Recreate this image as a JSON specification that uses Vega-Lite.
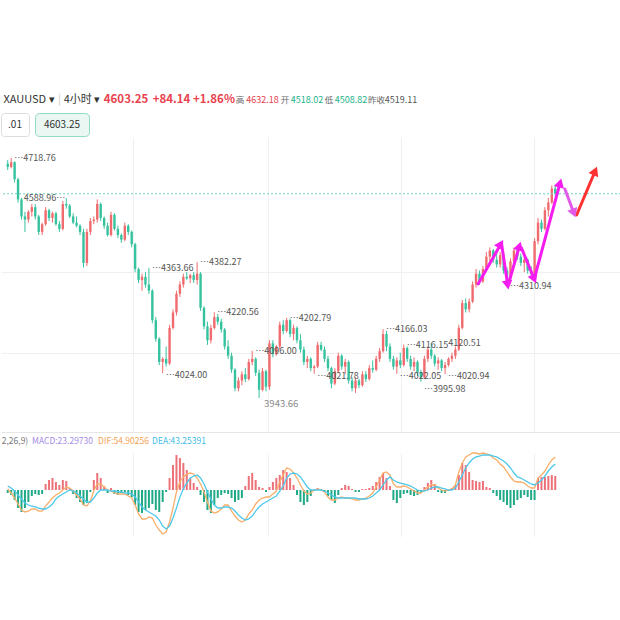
{
"$schema":"https://vega.github.io/schema/vega-lite/v6.json",
"background":"white",
"padding":{"top":88,"left":0,"right":0,"bottom":0},
"autosize":{"type":"pad"},
"spacing":0,
"config":{"font":"Noto Sans CJK SC","view":{"stroke":null},"axis":{"labels":false,"ticks":false,"domain":false,"gridColor":"#f0f0f0","title":null}},
"datasets":{
"k":[
{"i":0,"o":4700,"h":4712,"l":4680,"c":4690},{"i":1,"o":4690,"h":4718.76,"l":4685,"c":4705},{"i":2,"o":4705,"h":4708,"l":4640,"c":4650},{"i":3,"o":4650,"h":4655,"l":4575,"c":4585},{"i":4,"o":4585,"h":4590,"l":4520,"c":4530},{"i":5,"o":4530,"h":4545,"l":4480,"c":4520},{"i":6,"o":4520,"h":4550,"l":4510,"c":4545},{"i":7,"o":4545,"h":4570,"l":4530,"c":4560},{"i":8,"o":4560,"h":4570,"l":4520,"c":4530},{"i":9,"o":4530,"h":4535,"l":4470,"c":4480},
{"i":10,"o":4480,"h":4510,"l":4470,"c":4505},{"i":11,"o":4505,"h":4560,"l":4500,"c":4550},{"i":12,"o":4550,"h":4555,"l":4515,"c":4525},{"i":13,"o":4525,"h":4545,"l":4510,"c":4540},{"i":14,"o":4540,"h":4545,"l":4500,"c":4505},{"i":15,"o":4505,"h":4515,"l":4480,"c":4490},{"i":16,"o":4490,"h":4580,"l":4485,"c":4570},{"i":17,"o":4570,"h":4588.96,"l":4555,"c":4565},{"i":18,"o":4565,"h":4570,"l":4525,"c":4530},{"i":19,"o":4530,"h":4540,"l":4505,"c":4510},
{"i":20,"o":4510,"h":4530,"l":4495,"c":4500},{"i":21,"o":4500,"h":4505,"l":4470,"c":4480},{"i":22,"o":4480,"h":4490,"l":4365,"c":4380},{"i":23,"o":4380,"h":4490,"l":4370,"c":4480},{"i":24,"o":4480,"h":4525,"l":4470,"c":4515},{"i":25,"o":4515,"h":4530,"l":4505,"c":4520},{"i":26,"o":4520,"h":4585,"l":4510,"c":4570},{"i":27,"o":4570,"h":4575,"l":4515,"c":4525},{"i":28,"o":4525,"h":4530,"l":4490,"c":4500},{"i":29,"o":4500,"h":4510,"l":4465,"c":4470},
{"i":30,"o":4470,"h":4545,"l":4465,"c":4535},{"i":31,"o":4535,"h":4540,"l":4485,"c":4490},{"i":32,"o":4490,"h":4500,"l":4460,"c":4470},{"i":33,"o":4470,"h":4475,"l":4445,"c":4455},{"i":34,"o":4455,"h":4510,"l":4450,"c":4500},{"i":35,"o":4500,"h":4505,"l":4470,"c":4480},{"i":36,"o":4480,"h":4485,"l":4430,"c":4440},{"i":37,"o":4440,"h":4445,"l":4350,"c":4360},{"i":38,"o":4360,"h":4365,"l":4315,"c":4325},{"i":39,"o":4325,"h":4345,"l":4290,"c":4335},
{"i":40,"o":4335,"h":4350,"l":4300,"c":4310},{"i":41,"o":4310,"h":4363.66,"l":4280,"c":4290},{"i":42,"o":4290,"h":4295,"l":4185,"c":4195},{"i":43,"o":4195,"h":4205,"l":4125,"c":4135},{"i":44,"o":4135,"h":4140,"l":4050,"c":4060},{"i":45,"o":4060,"h":4075,"l":4024,"c":4070},{"i":46,"o":4070,"h":4110,"l":4045,"c":4055},{"i":47,"o":4055,"h":4180,"l":4050,"c":4170},{"i":48,"o":4170,"h":4230,"l":4165,"c":4220},{"i":49,"o":4220,"h":4290,"l":4210,"c":4280},
{"i":50,"o":4280,"h":4320,"l":4270,"c":4310},{"i":51,"o":4310,"h":4345,"l":4300,"c":4335},{"i":52,"o":4335,"h":4350,"l":4325,"c":4330},{"i":53,"o":4330,"h":4345,"l":4315,"c":4340},{"i":54,"o":4340,"h":4350,"l":4315,"c":4325},{"i":55,"o":4325,"h":4382.27,"l":4310,"c":4345},{"i":56,"o":4345,"h":4350,"l":4225,"c":4235},{"i":57,"o":4235,"h":4240,"l":4165,"c":4175},{"i":58,"o":4175,"h":4190,"l":4115,"c":4130},{"i":59,"o":4130,"h":4180,"l":4120,"c":4170},
{"i":60,"o":4170,"h":4220.56,"l":4165,"c":4205},{"i":61,"o":4205,"h":4215,"l":4180,"c":4190},{"i":62,"o":4190,"h":4200,"l":4155,"c":4165},{"i":63,"o":4165,"h":4170,"l":4100,"c":4110},{"i":64,"o":4110,"h":4130,"l":4070,"c":4080},{"i":65,"o":4080,"h":4090,"l":4025,"c":4035},{"i":66,"o":4035,"h":4040,"l":3965,"c":3975},{"i":67,"o":3975,"h":4010,"l":3965,"c":4000},{"i":68,"o":4000,"h":4030,"l":3985,"c":4020},{"i":69,"o":4020,"h":4040,"l":3995,"c":4005},
{"i":70,"o":4005,"h":4070,"l":4000,"c":4060},{"i":71,"o":4060,"h":4096,"l":4050,"c":4070},{"i":72,"o":4070,"h":4075,"l":4015,"c":4025},{"i":73,"o":4025,"h":4035,"l":3943.66,"c":3970},{"i":74,"o":3970,"h":4040,"l":3965,"c":4030},{"i":75,"o":4030,"h":4035,"l":3965,"c":3980},{"i":76,"o":3980,"h":4130,"l":3970,"c":4120},{"i":77,"o":4120,"h":4130,"l":4075,"c":4085},{"i":78,"o":4085,"h":4115,"l":4080,"c":4110},{"i":79,"o":4110,"h":4190,"l":4100,"c":4180},
{"i":80,"o":4180,"h":4195,"l":4150,"c":4160},{"i":81,"o":4160,"h":4202.79,"l":4155,"c":4195},{"i":82,"o":4195,"h":4200,"l":4140,"c":4150},{"i":83,"o":4150,"h":4180,"l":4130,"c":4170},{"i":84,"o":4170,"h":4175,"l":4120,"c":4130},{"i":85,"o":4130,"h":4150,"l":4090,"c":4100},{"i":86,"o":4100,"h":4110,"l":4050,"c":4060},{"i":87,"o":4060,"h":4080,"l":4040,"c":4070},{"i":88,"o":4070,"h":4075,"l":4030,"c":4040},{"i":89,"o":4040,"h":4050,"l":4021.78,"c":4045},
{"i":90,"o":4045,"h":4125,"l":4040,"c":4115},{"i":91,"o":4115,"h":4125,"l":4095,"c":4100},{"i":92,"o":4100,"h":4110,"l":4060,"c":4070},{"i":93,"o":4070,"h":4080,"l":4030,"c":4040},{"i":94,"o":4040,"h":4045,"l":3975,"c":3990},{"i":95,"o":3990,"h":4040,"l":3985,"c":4030},{"i":96,"o":4030,"h":4090,"l":4025,"c":4080},{"i":97,"o":4080,"h":4085,"l":4035,"c":4045},{"i":98,"o":4045,"h":4070,"l":4020,"c":4060},{"i":99,"o":4060,"h":4065,"l":3990,"c":4000},
{"i":100,"o":4000,"h":4010,"l":3965,"c":3975},{"i":101,"o":3975,"h":4010,"l":3960,"c":4000},{"i":102,"o":4000,"h":4005,"l":3975,"c":3985},{"i":103,"o":3985,"h":4030,"l":3980,"c":4020},{"i":104,"o":4020,"h":4030,"l":3995,"c":4005},{"i":105,"o":4005,"h":4050,"l":4000,"c":4040},{"i":106,"o":4040,"h":4065,"l":4025,"c":4035},{"i":107,"o":4035,"h":4080,"l":4030,"c":4070},{"i":108,"o":4070,"h":4105,"l":4060,"c":4095},{"i":109,"o":4095,"h":4166.03,"l":4090,"c":4150},
{"i":110,"o":4150,"h":4160,"l":4095,"c":4110},{"i":111,"o":4110,"h":4120,"l":4060,"c":4070},{"i":112,"o":4070,"h":4080,"l":4035,"c":4045},{"i":113,"o":4045,"h":4075,"l":4022.05,"c":4065},{"i":114,"o":4065,"h":4090,"l":4040,"c":4050},{"i":115,"o":4050,"h":4116.15,"l":4045,"c":4105},{"i":116,"o":4105,"h":4110,"l":4060,"c":4070},{"i":117,"o":4070,"h":4080,"l":4035,"c":4045},{"i":118,"o":4045,"h":4075,"l":4030,"c":4060},{"i":119,"o":4060,"h":4065,"l":4015,"c":4025},
{"i":120,"o":4025,"h":4035,"l":3995.98,"c":4010},{"i":121,"o":4010,"h":4080,"l":4005,"c":4070},{"i":122,"o":4070,"h":4110,"l":4060,"c":4100},{"i":123,"o":4100,"h":4120.51,"l":4070,"c":4080},{"i":124,"o":4080,"h":4085,"l":4045,"c":4055},{"i":125,"o":4055,"h":4075,"l":4035,"c":4065},{"i":126,"o":4065,"h":4070,"l":4030,"c":4040},{"i":127,"o":4040,"h":4060,"l":4020.94,"c":4050},{"i":128,"o":4050,"h":4075,"l":4045,"c":4070},{"i":129,"o":4070,"h":4090,"l":4060,"c":4080},
{"i":130,"o":4080,"h":4110,"l":4070,"c":4100},{"i":131,"o":4100,"h":4180,"l":4095,"c":4170},{"i":132,"o":4170,"h":4260,"l":4165,"c":4250},{"i":133,"o":4250,"h":4265,"l":4220,"c":4230},{"i":134,"o":4230,"h":4265,"l":4220,"c":4255},{"i":135,"o":4255,"h":4320,"l":4250,"c":4310},{"i":136,"o":4310,"h":4360,"l":4300,"c":4345},{"i":137,"o":4345,"h":4355,"l":4310,"c":4320},{"i":138,"o":4320,"h":4370,"l":4315,"c":4360},{"i":139,"o":4360,"h":4415,"l":4355,"c":4400},
{"i":140,"o":4400,"h":4430,"l":4385,"c":4420},{"i":141,"o":4420,"h":4425,"l":4380,"c":4390},{"i":142,"o":4390,"h":4410,"l":4365,"c":4375},{"i":143,"o":4375,"h":4415,"l":4365,"c":4405},{"i":144,"o":4405,"h":4410,"l":4345,"c":4355},{"i":145,"o":4355,"h":4365,"l":4310.94,"c":4330},{"i":146,"o":4330,"h":4395,"l":4325,"c":4385},{"i":147,"o":4385,"h":4430,"l":4380,"c":4420},{"i":148,"o":4420,"h":4432,"l":4390,"c":4400},{"i":149,"o":4400,"h":4410,"l":4370,"c":4380},
{"i":150,"o":4380,"h":4400,"l":4350,"c":4390},{"i":151,"o":4390,"h":4395,"l":4345,"c":4355},{"i":152,"o":4355,"h":4370,"l":4330,"c":4345},{"i":153,"o":4345,"h":4460,"l":4340,"c":4450},{"i":154,"o":4450,"h":4525,"l":4440,"c":4510},{"i":155,"o":4510,"h":4520,"l":4480,"c":4490},{"i":156,"o":4490,"h":4560,"l":4485,"c":4550},{"i":157,"o":4550,"h":4590,"l":4530,"c":4575},{"i":158,"o":4575,"h":4630,"l":4570,"c":4620},{"i":159,"o":4620,"h":4632.18,"l":4595,"c":4603.25}
],
"m":[
{"i":0,"m":-5,"f":1.7,"d":6.6},{"i":1,"m":-8.3,"f":-5,"d":3.3},{"i":2,"m":-16.6,"f":-13.3,"d":-1.7},{"i":3,"m":-29.9,"f":-23.2,"d":-8.3},{"i":4,"m":-36.5,"f":-33.2,"d":-14.9},{"i":5,"m":-29.9,"f":-36.5,"d":-21.6},{"i":6,"m":-19.9,"f":-34.9,"d":-24.9},{"i":7,"m":-10,"f":-31.5,"d":-26.6},{"i":8,"m":-6.6,"f":-31.5,"d":-28.2},{"i":9,"m":-8.3,"f":-34.9,"d":-29.9},
{"i":10,"m":-6.6,"f":-34.9,"d":-31.5},{"i":11,"m":10,"f":-26.6,"d":-31.5},{"i":12,"m":16.6,"f":-19.9,"d":-28.2},{"i":13,"m":19.9,"f":-13.3,"d":-23.2},{"i":14,"m":13.3,"f":-8.3,"d":-14.9},{"i":15,"m":8.3,"f":-5,"d":-10},{"i":16,"m":16.6,"f":0,"d":-6.6},{"i":17,"m":14.9,"f":5,"d":-3.3},{"i":18,"m":3.3,"f":3.3,"d":0},{"i":19,"m":-6.6,"f":-1.7,"d":-1.7},
{"i":20,"m":-13.3,"f":-8.3,"d":-5},{"i":21,"m":-19.9,"f":-14.9,"d":-10},{"i":22,"m":-24.9,"f":-24.9,"d":-14.9},{"i":23,"m":-21.6,"f":-26.6,"d":-19.9},{"i":24,"m":-3.3,"f":-18.3,"d":-19.9},{"i":25,"m":16.6,"f":-1.7,"d":-13.3},{"i":26,"m":28.2,"f":10,"d":-5},{"i":27,"m":19.9,"f":10,"d":0},{"i":28,"m":6.6,"f":5,"d":0},{"i":29,"m":-5,"f":0,"d":0},
{"i":30,"m":3.3,"f":-1.7,"d":-1.7},{"i":31,"m":-6.6,"f":-5,"d":-1.7},{"i":32,"m":-8.3,"f":-6.6,"d":-3.3},{"i":33,"m":-5,"f":-6.6,"d":-3.3},{"i":34,"m":-3.3,"f":-6.6,"d":-5},{"i":35,"m":-8.3,"f":-10,"d":-5},{"i":36,"m":-11.6,"f":-13.3,"d":-6.6},{"i":37,"m":-24.9,"f":-24.9,"d":-11.6},{"i":38,"m":-36.5,"f":-39.8,"d":-19.9},{"i":39,"m":-38.2,"f":-48.1,"d":-28.2},
{"i":40,"m":-33.2,"f":-48.1,"d":-33.2},{"i":41,"m":-29.9,"f":-44.8,"d":-36.5},{"i":42,"m":-23.2,"f":-46.5,"d":-39.8},{"i":43,"m":-33.2,"f":-58.1,"d":-43.2},{"i":44,"m":-36.5,"f":-66.4,"d":-49.8},{"i":45,"m":-19.9,"f":-73,"d":-59.8},{"i":46,"m":-3.3,"f":-69.7,"d":-64.7},{"i":47,"m":19.9,"f":-53.1,"d":-59.8},{"i":48,"m":41.5,"f":-29.9,"d":-46.5},{"i":49,"m":58.1,"f":-3.3,"d":-29.9},
{"i":50,"m":53.1,"f":13.3,"d":-11.6},{"i":51,"m":44.8,"f":21.6,"d":1.7},{"i":52,"m":33.2,"f":26.6,"d":11.6},{"i":53,"m":19.9,"f":28.2,"d":19.9},{"i":54,"m":11.6,"f":26.6,"d":23.2},{"i":55,"m":5,"f":19.9,"d":24.9},{"i":56,"m":-8.3,"f":10,"d":19.9},{"i":57,"m":-19.9,"f":-3.3,"d":10},{"i":58,"m":-33.2,"f":-19.9,"d":-3.3},{"i":59,"m":-38.2,"f":-34.9,"d":-14.9},
{"i":60,"m":-24.9,"f":-38.2,"d":-24.9},{"i":61,"m":-13.3,"f":-36.5,"d":-29.9},{"i":62,"m":-8.3,"f":-31.5,"d":-29.9},{"i":63,"m":-5,"f":-24.9,"d":-28.2},{"i":64,"m":-6.6,"f":-24.9,"d":-28.2},{"i":65,"m":-13.3,"f":-34.9,"d":-29.9},{"i":66,"m":-19.9,"f":-43.2,"d":-34.9},{"i":67,"m":-16.6,"f":-49.8,"d":-41.5},{"i":68,"m":-13.3,"f":-53.1,"d":-46.5},{"i":69,"m":6.6,"f":-49.8,"d":-49.8},
{"i":70,"m":23.2,"f":-39.8,"d":-48.1},{"i":71,"m":28.2,"f":-33.2,"d":-43.2},{"i":72,"m":16.6,"f":-23.2,"d":-34.9},{"i":73,"m":5,"f":-16.6,"d":-28.2},{"i":74,"m":3.3,"f":-13.3,"d":-23.2},{"i":75,"m":-3.3,"f":-11.6,"d":-19.9},{"i":76,"m":5,"f":-11.6,"d":-16.6},{"i":77,"m":13.3,"f":-6.6,"d":-13.3},{"i":78,"m":19.9,"f":-1.7,"d":-10},{"i":79,"m":24.9,"f":13.3,"d":-1.7},
{"i":80,"m":33.2,"f":24.9,"d":6.6},{"i":81,"m":29.9,"f":36.5,"d":19.9},{"i":82,"m":19.9,"f":34.9,"d":26.6},{"i":83,"m":8.3,"f":28.2,"d":28.2},{"i":84,"m":-8.3,"f":19.9,"d":26.6},{"i":85,"m":-19.9,"f":8.3,"d":21.6},{"i":86,"m":-24.9,"f":-1.7,"d":13.3},{"i":87,"m":-19.9,"f":-6.6,"d":5},{"i":88,"m":-10,"f":-5,"d":0},{"i":89,"m":-1.7,"f":0,"d":0},
{"i":90,"m":3.3,"f":1.7,"d":0},{"i":91,"m":1.7,"f":0,"d":0},{"i":92,"m":-3.3,"f":-3.3,"d":-1.7},{"i":93,"m":-10,"f":-11.6,"d":-5},{"i":94,"m":-16.6,"f":-16.6,"d":-8.3},{"i":95,"m":-21.6,"f":-16.6,"d":-11.6},{"i":96,"m":-8.3,"f":-13.3,"d":-13.3},{"i":97,"m":3.3,"f":-11.6,"d":-13.3},{"i":98,"m":8.3,"f":-13.3,"d":-13.3},{"i":99,"m":6.6,"f":-13.3,"d":-13.3},
{"i":100,"m":1.7,"f":-14.9,"d":-13.3},{"i":101,"m":-3.3,"f":-16.6,"d":-13.3},{"i":102,"m":-3.3,"f":-16.6,"d":-14.9},{"i":103,"m":1.7,"f":-14.9,"d":-14.9},{"i":104,"m":1.7,"f":-13.3,"d":-14.9},{"i":105,"m":3.3,"f":-10,"d":-13.3},{"i":106,"m":6.6,"f":-5,"d":-10},{"i":107,"m":13.3,"f":5,"d":-5},{"i":108,"m":21.6,"f":16.6,"d":0},{"i":109,"m":28.2,"f":28.2,"d":8.3},
{"i":110,"m":19.9,"f":29.9,"d":16.6},{"i":111,"m":6.6,"f":24.9,"d":21.6},{"i":112,"m":-16.6,"f":10,"d":16.6},{"i":113,"m":-21.6,"f":5,"d":13.3},{"i":114,"m":-13.3,"f":5,"d":11.6},{"i":115,"m":-6.6,"f":6.6,"d":10},{"i":116,"m":-5,"f":5,"d":8.3},{"i":117,"m":-8.3,"f":1.7,"d":6.6},{"i":118,"m":-10,"f":-1.7,"d":3.3},{"i":119,"m":-8.3,"f":-5,"d":0},
{"i":120,"m":-5,"f":-5,"d":-1.7},{"i":121,"m":5,"f":0,"d":-1.7},{"i":122,"m":11.6,"f":5,"d":0},{"i":123,"m":16.6,"f":8.3,"d":3.3},{"i":124,"m":10,"f":8.3,"d":5},{"i":125,"m":-3.3,"f":3.3,"d":5},{"i":126,"m":-5,"f":0,"d":3.3},{"i":127,"m":-5,"f":-1.7,"d":1.7},{"i":128,"m":-1.7,"f":0,"d":0},{"i":129,"m":3.3,"f":1.7,"d":0},
{"i":130,"m":8.3,"f":8.3,"d":3.3},{"i":131,"m":24.9,"f":29.9,"d":13.3},{"i":132,"m":44.8,"f":44.8,"d":24.9},{"i":133,"m":41.5,"f":54.8,"d":36.5},{"i":134,"m":29.9,"f":58.1,"d":44.8},{"i":135,"m":16.6,"f":61.4,"d":51.5},{"i":136,"m":14.9,"f":61.4,"d":54.8},{"i":137,"m":13.3,"f":59.8,"d":56.4},{"i":138,"m":14.9,"f":61.4,"d":58.1},{"i":139,"m":5,"f":59.8,"d":58.1},
{"i":140,"m":3.3,"f":58.1,"d":58.1},{"i":141,"m":-5,"f":53.1,"d":56.4},{"i":142,"m":-10,"f":49.8,"d":54.8},{"i":143,"m":-16.6,"f":43.2,"d":51.5},{"i":144,"m":-19.9,"f":38.2,"d":48.1},{"i":145,"m":-24.9,"f":29.9,"d":43.2},{"i":146,"m":-29.9,"f":21.6,"d":36.5},{"i":147,"m":-24.9,"f":14.9,"d":28.2},{"i":148,"m":-16.6,"f":13.3,"d":21.6},{"i":149,"m":-13.3,"f":13.3,"d":19.9},
{"i":150,"m":-8.3,"f":11.6,"d":16.6},{"i":151,"m":-11.6,"f":6.6,"d":13.3},{"i":152,"m":-16.6,"f":3.3,"d":10},{"i":153,"m":-16.6,"f":3.3,"d":8.3},{"i":154,"m":19.9,"f":19.9,"d":11.6},{"i":155,"m":21.6,"f":24.9,"d":16.6},{"i":156,"m":21.6,"f":31.5,"d":23.2},{"i":157,"m":23.2,"f":41.5,"d":31.5},{"i":158,"m":24.9,"f":49.8,"d":38.2},{"i":159,"m":23.2973,"f":54.90256,"d":43.25391}
],
"lab":[
{"i":1,"p":4718.76,"t":"…4718.76","k":"h"},
{"i":17,"p":4588.96,"t":"4588.96…","k":"r"},
{"i":41,"p":4363.66,"t":"…4363.66","k":"h"},
{"i":55,"p":4382.27,"t":"…4382.27","k":"h"},
{"i":45,"p":4024.00,"t":"…4024.00","k":"l"},
{"i":60,"p":4220.56,"t":"…4220.56","k":"h"},
{"i":71,"p":4096.00,"t":"…4096.00","k":"h"},
{"i":73,"p":3943.66,"t":"3943.66","k":"g"},
{"i":81,"p":4202.79,"t":"…4202.79","k":"h"},
{"i":89,"p":4021.78,"t":"…4021.78","k":"l"},
{"i":109,"p":4166.03,"t":"…4166.03","k":"h"},
{"i":115,"p":4116.15,"t":"…4116.15","k":"h"},
{"i":123,"p":4120.51,"t":"4120.51","k":"h2"},
{"i":113,"p":4022.05,"t":"…4022.05","k":"l"},
{"i":120,"p":3995.98,"t":"…3995.98","k":"l2"},
{"i":127,"p":4020.94,"t":"…4020.94","k":"l"},
{"i":145,"p":4310.94,"t":"…4310.94","k":"l"}
],
"arr":[
{"i1":136.6,"p1":4311.8,"i2":143.2,"p2":4441,"g":"a"},
{"i1":143.5,"p1":4434.5,"i2":145.2,"p2":4308.5,"g":"a"},
{"i1":145.5,"p1":4315,"i2":148.6,"p2":4434.5,"g":"a"},
{"i1":149.2,"p1":4428,"i2":152.9,"p2":4328,"g":"a"},
{"i1":152.9,"p1":4328,"i2":160.4,"p2":4638,"g":"a"},
{"i1":161.8,"p1":4618.6,"i2":164.4,"p2":4541,"g":"b"},
{"i1":165.2,"p1":4534.7,"i2":170.6,"p2":4676.8,"g":"c"}
]
},
"vconcat":[
{"hconcat":[
{"width":56,"height":24,"data":{"values":[{"t":"XAUUSD ▾"}]},"mark":{"type":"text","fontSize":11,"color":"#333333"},"encoding":{"text":{"field":"t"}}},
{"width":5,"height":24,"data":{"values":[{"t":"|"}]},"mark":{"type":"text","fontSize":11,"color":"#cccccc"},"encoding":{"text":{"field":"t"}}},
{"width":40,"height":24,"data":{"values":[{"t":"4小时 ▾"}]},"mark":{"type":"text","fontSize":11,"color":"#333333"},"encoding":{"text":{"field":"t"}}},
{"width":48,"height":24,"data":{"values":[{"t":"4603.25"}]},"mark":{"type":"text","fontSize":11.5,"fontWeight":"bold","color":"#e8424e"},"encoding":{"text":{"field":"t"}}},
{"width":43,"height":24,"data":{"values":[{"t":"+84.14"}]},"mark":{"type":"text","fontSize":11.5,"fontWeight":"bold","color":"#e8424e"},"encoding":{"text":{"field":"t"}}},
{"width":42,"height":24,"data":{"values":[{"t":"+1.86%"}]},"mark":{"type":"text","fontSize":11.5,"fontWeight":"bold","color":"#e8424e"},"encoding":{"text":{"field":"t"}}},
{"width":10,"height":24,"data":{"values":[{"t":"高"}]},"mark":{"type":"text","fontSize":8.5,"color":"#666666"},"encoding":{"text":{"field":"t"}}},
{"width":35,"height":24,"data":{"values":[{"t":"4632.18"}]},"mark":{"type":"text","fontSize":9,"color":"#e8424e"},"encoding":{"text":{"field":"t"}}},
{"width":10,"height":24,"data":{"values":[{"t":"开"}]},"mark":{"type":"text","fontSize":8.5,"color":"#666666"},"encoding":{"text":{"field":"t"}}},
{"width":34,"height":24,"data":{"values":[{"t":"4518.02"}]},"mark":{"type":"text","fontSize":9,"color":"#1bb38a"},"encoding":{"text":{"field":"t"}}},
{"width":10,"height":24,"data":{"values":[{"t":"低"}]},"mark":{"type":"text","fontSize":8.5,"color":"#666666"},"encoding":{"text":{"field":"t"}}},
{"width":34,"height":24,"data":{"values":[{"t":"4508.82"}]},"mark":{"type":"text","fontSize":9,"color":"#1bb38a"},"encoding":{"text":{"field":"t"}}},
{"width":17,"height":24,"data":{"values":[{"t":"昨收"}]},"mark":{"type":"text","fontSize":8.5,"color":"#666666"},"encoding":{"text":{"field":"t"}}},
{"width":32,"height":24,"data":{"values":[{"t":"4519.11"}]},"mark":{"type":"text","fontSize":9,"color":"#555555"},"encoding":{"text":{"field":"t"}}}
],"spacing":0,"bounds":"flush"},
{"hconcat":[
{"width":28,"height":23,"view":{"fill":"white","stroke":"#dcdcdc","cornerRadius":3},"data":{"values":[{"t":".01"}]},"mark":{"type":"text","fontSize":10,"color":"#333333"},"encoding":{"text":{"field":"t"}}},
{"width":54,"height":23,"view":{"fill":"#eaf7f3","stroke":"#92dac8","cornerRadius":4},"data":{"values":[{"t":"4603.25"}]},"mark":{"type":"text","fontSize":10,"color":"#333333"},"encoding":{"text":{"field":"t"}}}
],"spacing":6,"bounds":"flush"},
{"width":620,"height":295,
"layer":[
{"data":{"name":"k"},"mark":{"type":"rule","strokeWidth":1},
"encoding":{
"x":{"field":"i","type":"quantitative","scale":{"domain":[-0.5,176.643],"nice":false,"zero":false},"axis":{"values":[36.36,75.5,114.07,152.93],"grid":true,"gridColor":"#f0f0f0","labels":false,"ticks":false,"domain":true,"domainColor":"#e6e6e6","title":null}},
"y":{"field":"l","type":"quantitative","scale":{"domain":[3833.7,4786.6],"nice":false,"zero":false},"axis":{"values":[4089,4350.5],"grid":true,"gridColor":"#f0f0f0","labels":false,"ticks":false,"domain":false,"title":null}},
"y2":{"field":"h"},
"color":{"condition":{"test":"datum.c >= datum.o","value":"#ef6b6d"},"value":"#35c29f"}}},
{"data":{"name":"k"},"mark":{"type":"bar","size":2.4},
"encoding":{"x":{"field":"i","type":"quantitative"},"y":{"field":"o","type":"quantitative"},"y2":{"field":"c"},
"color":{"condition":{"test":"datum.c >= datum.o","value":"#ef6b6d"},"value":"#35c29f"}}},
{"data":{"values":[{}]},"mark":{"type":"rule","strokeDash":[2,2],"color":"#6fd3c1","strokeWidth":1},"encoding":{"y":{"datum":4603.25}}},
{"data":{"name":"lab"},"transform":[{"filter":"datum.k == 'h'"}],"mark":{"type":"text","align":"left","dx":3,"fontSize":9,"color":"#555555"},"encoding":{"x":{"field":"i","type":"quantitative"},"y":{"field":"p","type":"quantitative"},"text":{"field":"t"}}},
{"data":{"name":"lab"},"transform":[{"filter":"datum.k == 'h2'"}],"mark":{"type":"text","align":"left","dx":17,"fontSize":9,"color":"#555555"},"encoding":{"x":{"field":"i","type":"quantitative"},"y":{"field":"p","type":"quantitative"},"text":{"field":"t"}}},
{"data":{"name":"lab"},"transform":[{"filter":"datum.k == 'r'"}],"mark":{"type":"text","align":"right","dx":-1,"fontSize":9,"color":"#555555"},"encoding":{"x":{"field":"i","type":"quantitative"},"y":{"field":"p","type":"quantitative"},"text":{"field":"t"}}},
{"data":{"name":"lab"},"transform":[{"filter":"datum.k == 'l'"}],"mark":{"type":"text","align":"left","dx":3,"dy":2,"fontSize":9,"color":"#555555"},"encoding":{"x":{"field":"i","type":"quantitative"},"y":{"field":"p","type":"quantitative"},"text":{"field":"t"}}},
{"data":{"name":"lab"},"transform":[{"filter":"datum.k == 'l2'"}],"mark":{"type":"text","align":"left","dx":3,"dy":7,"fontSize":9,"color":"#555555"},"encoding":{"x":{"field":"i","type":"quantitative"},"y":{"field":"p","type":"quantitative"},"text":{"field":"t"}}},
{"data":{"name":"lab"},"transform":[{"filter":"datum.k == 'g'"}],"mark":{"type":"text","align":"left","dx":5,"dy":6,"fontSize":9.5,"color":"#8a8a8a"},"encoding":{"x":{"field":"i","type":"quantitative"},"y":{"field":"p","type":"quantitative"},"text":{"field":"t"}}},
{"data":{"name":"arr"},"mark":{"type":"rule","strokeWidth":3,"strokeCap":"round"},"encoding":{"x":{"field":"i1","type":"quantitative"},"y":{"field":"p1","type":"quantitative"},"x2":{"field":"i2"},"y2":{"field":"p2"},"color":{"field":"g","type":"nominal","scale":{"domain":["a","b","c"],"range":["#f51cf0","#e25be8","#ff3131"]},"legend":null}}},
{"data":{"name":"arr"},"transform":[{"calculate":"atan2((datum.i2-datum.i1)*3.5,(datum.p2-datum.p1)*0.3096)*180/PI","as":"ang"}],"mark":{"type":"point","shape":"triangle-up","filled":true,"size":110,"opacity":1},"encoding":{"x":{"field":"i2","type":"quantitative"},"y":{"field":"p2","type":"quantitative"},"angle":{"field":"ang","type":"quantitative","scale":null},"color":{"field":"g","type":"nominal","legend":null}}}
]},
{"hconcat":[
{"width":28,"height":18,"data":{"values":[{"t":"2,26,9)"}]},"mark":{"type":"text","fontSize":8.5,"color":"#777777"},"encoding":{"text":{"field":"t"}}},
{"width":67,"height":18,"data":{"values":[{"t":"MACD:23.29730"}]},"mark":{"type":"text","fontSize":8.5,"color":"#a58de6"},"encoding":{"text":{"field":"t"}}},
{"width":55,"height":18,"data":{"values":[{"t":"DIF:54.90256"}]},"mark":{"type":"text","fontSize":8.5,"color":"#f5a255"},"encoding":{"text":{"field":"t"}}},
{"width":56,"height":18,"data":{"values":[{"t":"DEA:43.25391"}]},"mark":{"type":"text","fontSize":8.5,"color":"#3fbde3"},"encoding":{"text":{"field":"t"}}}
],"spacing":0,"bounds":"flush"},
{"width":620,"height":84,"data":{"name":"m"},
"layer":[
{"mark":{"type":"bar","size":2},"encoding":{
"x":{"field":"i","type":"quantitative","scale":{"domain":[-0.5,176.643],"nice":false,"zero":false},"axis":{"values":[36.36,75.5,114.07,152.93],"grid":true,"gridColor":"#f0f0f0","labels":false,"ticks":false,"domain":false,"title":null}},
"y":{"field":"m","type":"quantitative","scale":{"domain":[-78,61.4],"nice":false,"zero":false},"axis":null},
"y2":{"datum":0},
"color":{"condition":{"test":"datum.m >= 0","value":"#ec7179"},"value":"#20a987"}}},
{"mark":{"type":"line","color":"#f9ae6a","strokeWidth":1.3},"encoding":{"x":{"field":"i","type":"quantitative"},"y":{"field":"f","type":"quantitative","axis":null}}},
{"mark":{"type":"line","color":"#4ec8ea","strokeWidth":1.3},"encoding":{"x":{"field":"i","type":"quantitative"},"y":{"field":"d","type":"quantitative","axis":null}}}
]}
]
}
